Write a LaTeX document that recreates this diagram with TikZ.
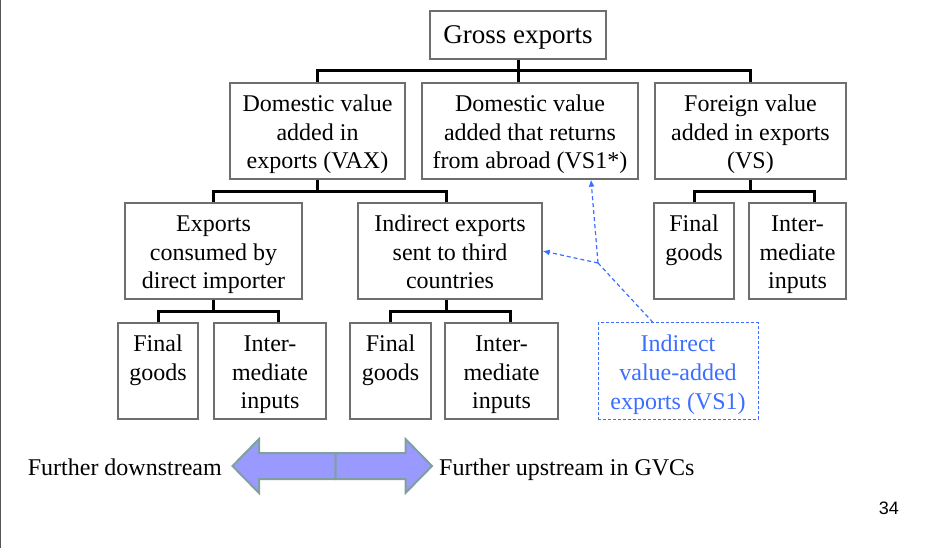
\documentclass[tikz,border=0pt]{standalone}
\usepackage{fontspec}
\setmainfont{Liberation Serif}
\newfontfamily\numfont{Liberation Sans}
\usetikzlibrary{calc,arrows.meta}
\definecolor{boxgray}{RGB}{110,110,110}
\definecolor{vsblue}{RGB}{60,110,255}
\definecolor{arrfill}{RGB}{153,153,255}
\definecolor{arredge}{RGB}{128,160,160}
\definecolor{edgegray}{RGB}{85,85,85}
\tikzset{
  bx/.style={draw=boxgray, line width=1.3bp, inner sep=0pt},
  txt/.style={font=\fontsize{24bp}{28.7bp}\selectfont, align=center, inner sep=0pt, anchor=north},
  br/.style={draw=black, line width=3bp},
  vsline/.style={draw=vsblue, line width=1.2bp, dash pattern=on 4bp off 3bp},
  vstip/.style={-{Latex[length=7bp,width=6bp]}},
  bigarrow/.style={draw=arredge, fill=arrfill, line width=2bp, line join=miter},
  bottomtxt/.style={font=\fontsize{24bp}{28bp}\selectfont, inner sep=0pt},
}
\begin{document}
\begin{tikzpicture}[x=1bp, y=-1bp]
\useasboundingbox (0,0) rectangle (950,548);
\draw[edgegray, line width=1.5bp] (0.75,0) -- (0.75,548);

% boxes
\node[bx, minimum width=176bp, minimum height=48bp] (gross) at (518,35) {};
\node[bx, minimum width=175bp, minimum height=96bp] (vax) at (317.5,131) {};
\node[bx, minimum width=216bp, minimum height=96bp] (vs1star) at (530,131) {};
\node[bx, minimum width=191bp, minimum height=96bp] (foreign) at (750.5,131) {};
\node[bx, minimum width=177bp, minimum height=96bp] (exports) at (213.5,251) {};
\node[bx, minimum width=184bp, minimum height=96bp] (indirect) at (450,251) {};
\node[bx, minimum width=80bp, minimum height=96bp] (fin3) at (694,251) {};
\node[bx, minimum width=97bp, minimum height=96bp] (int3) at (797.5,251) {};
\node[bx, minimum width=80bp, minimum height=96bp] (fin1) at (158,371) {};
\node[bx, minimum width=112bp, minimum height=96bp] (int1) at (270,371) {};
\node[bx, minimum width=81bp, minimum height=96bp] (fin2) at (390.5,371) {};
\node[bx, minimum width=113bp, minimum height=96bp] (int2) at (501.5,371) {};
\node[draw=vsblue, line width=1bp, dash pattern=on 3bp off 2bp, inner sep=0pt,
      minimum width=160bp, minimum height=96bp] (vs1) at (678,371) {};

% texts
\node[font=\fontsize{27bp}{32bp}\selectfont, anchor=base, inner sep=0pt] (tgross) at (518,43.3) {Gross exports};
\node[txt] (tvax) at ($(vax.north)+(0,8.9)$) {\strut Domestic value\\\strut added in\\\strut exports (VAX)};
\node[txt] (tvs1star) at ($(vs1star.north)+(0,8.9)$) {\strut Domestic value\\\strut added that returns\\\strut from abroad (VS1*)};
\node[txt] (tforeign) at ($(foreign.north)+(0,8.9)$) {\strut Foreign value\\\strut added in exports\\\strut (VS)};
\node[txt] (texports) at ($(exports.north)+(0,8.9)$) {\strut Exports\\\strut consumed by\\\strut direct importer};
\node[txt] (tindirect) at ($(indirect.north)+(0,8.9)$) {\strut Indirect exports\\\strut sent to third\\\strut countries};
\node[txt] (tfin3) at ($(fin3.north)+(0,8.9)$) {\strut Final\\\strut goods};
\node[txt] (tint3) at ($(int3.north)+(0,8.9)$) {\strut Inter-\\\strut mediate\\\strut inputs};
\node[txt] (tfin1) at ($(fin1.north)+(0,8.9)$) {\strut Final\\\strut goods};
\node[txt] (tint1) at ($(int1.north)+(0,8.9)$) {\strut Inter-\\\strut mediate\\\strut inputs};
\node[txt] (tfin2) at ($(fin2.north)+(0,8.9)$) {\strut Final\\\strut goods};
\node[txt] (tint2) at ($(int2.north)+(0,8.9)$) {\strut Inter-\\\strut mediate\\\strut inputs};
\node[txt, text=vsblue] (tvs1) at ($(vs1.north)+(0,8.9)$) {\strut Indirect\\\strut value-added\\\strut exports (VS1)};

% tree brackets
\draw[br] (gross.south) -- (gross.south |- vs1star.north);
\draw[br] (vax.north) -- ++(0,-12) -| (foreign.north);
\draw[br] (vax.south) -- ++(0,13);
\draw[br] (exports.north) -- ++(0,-11) -| ($(indirect.north)+(-4,0)$);
\draw[br] (foreign.south) -- ++(0,13);
\draw[br] (fin3.north) -- ++(0,-11) -| ($(int3.north)+(16.5,0)$);
\draw[br] (exports.south) -- ++(0,13);
\draw[br] (fin1.north) -- ++(0,-11) -| ($(int1.north)+(8,0)$);
\draw[br] ($(indirect.south)+(-4,0)$) -- ++(0,13);
\draw[br] (fin2.north) -- ++(0,-11) -| ($(int2.north)+(8.5,0)$);

% dashed VS1 connectors
\coordinate (j) at (598,263);
\draw[vsline] ($(vs1.north)+(-25,0)$) -- (j);
\draw[vsline, vstip] (j) -- (indirect.east);
\draw[vsline, vstip] (j) -- ($(vs1star.south)+(61,0)$);

% double arrow
\path[bigarrow] (232.5,466) -- (259,439) -- (259,453) -- (335.5,453) -- (335.5,479) -- (259,479) -- (259,493) -- cycle;
\path[bigarrow] (335.5,453) -- (405.5,453) -- (405.5,439) -- (432,466) -- (405.5,493) -- (405.5,479) -- (335.5,479) -- cycle;
\node[bottomtxt, anchor=base east] (down) at (222,475) {Further downstream};
\node[bottomtxt, anchor=base west] (up) at (439,475) {Further upstream in GVCs};

\node[font=\numfont\fontsize{18bp}{20bp}\selectfont, anchor=base east, inner sep=0pt] (page) at (899,514) {34};
\end{tikzpicture}
\end{document}
